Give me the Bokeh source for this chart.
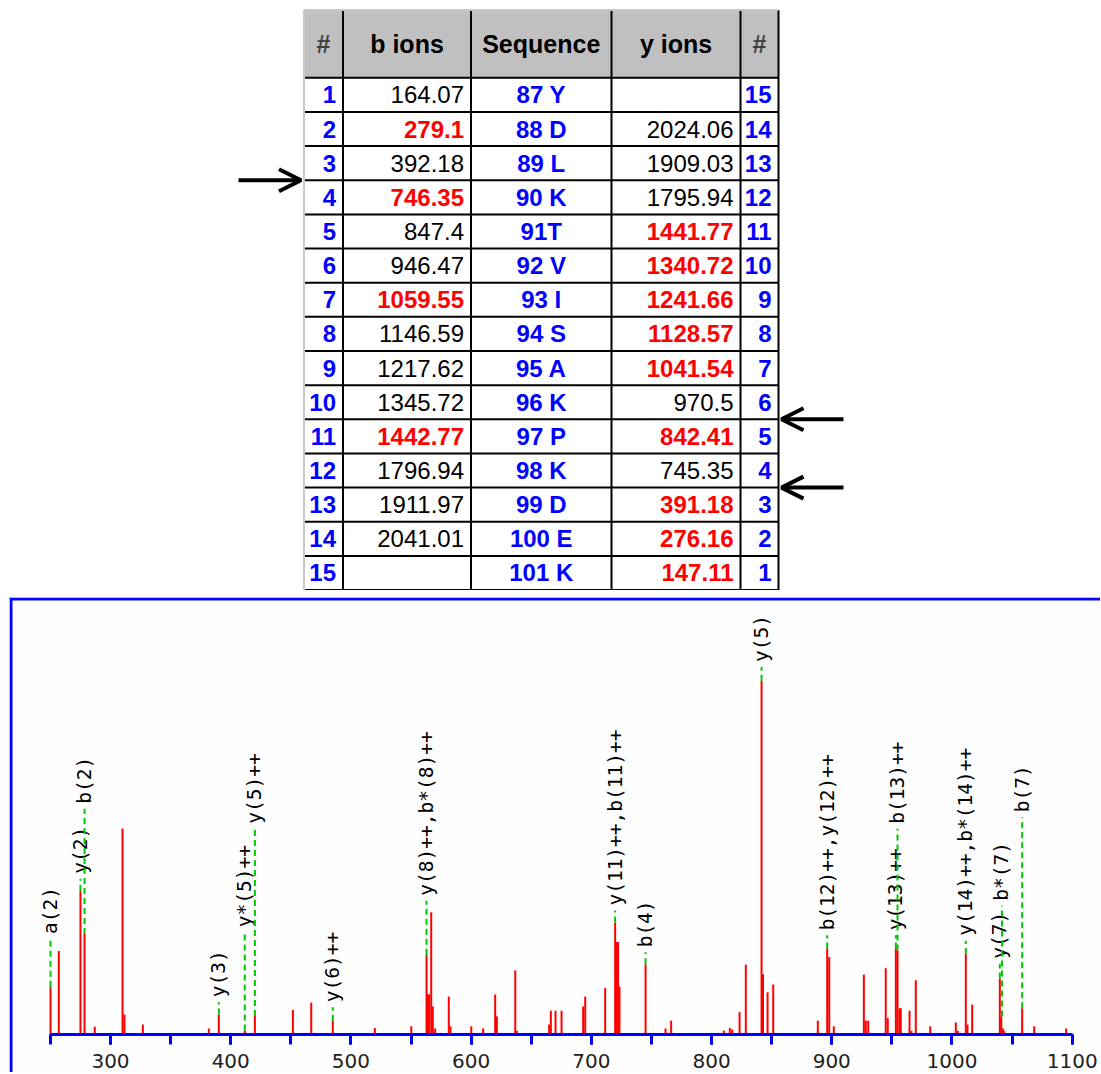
import numpy as np
from bokeh.plotting import figure
from bokeh.models import Range1d, Span, FixedTicker, Arrow, OpenHead
from bokeh.layouts import column
from bokeh.embed import file_html
from bokeh.resources import INLINE
from bokeh.core.properties import value

# ---------------- table data ----------------
headers = ["#", "b ions", "Sequence", "y ions", "#"]
b_no = list(range(1, 16))
b_ions = ["164.07", "279.1", "392.18", "746.35", "847.4", "946.47", "1059.55", "1146.59",
          "1217.62", "1345.72", "1442.77", "1796.94", "1911.97", "2041.01", ""]
b_matched = [0, 1, 0, 1, 0, 0, 1, 0, 0, 0, 1, 0, 0, 0, 0]
sequence = ["87 Y", "88 D", "89 L", "90 K", "91T", "92 V", "93 I", "94 S", "95 A",
            "96 K", "97 P", "98 K", "99 D", "100 E", "101 K"]
y_ions = ["", "2024.06", "1909.03", "1795.94", "1441.77", "1340.72", "1241.66", "1128.57",
          "1041.54", "970.5", "842.41", "745.35", "391.18", "276.16", "147.11"]
y_matched = [0, 0, 0, 0, 1, 1, 1, 1, 1, 0, 1, 0, 1, 1, 1]
y_no = list(range(15, 0, -1))
arrow_rows = [3, 10, 12]          # arrow drawn at the lower edge of these rows
arrow_sides = ["left", "right", "right"]

# ---------------- spectrum data ----------------
peak_mz = [250.1, 257.0, 275.0, 278.4, 286.9, 310.0, 311.6, 326.9, 381.8, 390.1, 411.7, 420.1,
           451.7, 467.0, 484.9, 519.9, 550.2, 562.9, 564.0, 565.0, 566.8, 568.1, 570.1, 581.4,
           582.8, 600.1, 610.0, 620.0, 621.4, 636.7, 638.0, 664.9, 666.3, 670.2, 675.2, 693.2,
           694.9, 711.5, 719.8, 721.0, 722.2, 723.4, 745.1, 761.7, 766.4, 810.2, 815.2, 817.2,
           823.3, 828.5, 841.6, 842.8, 846.6, 851.3, 888.4, 896.2, 897.9, 901.7, 926.7, 928.3,
           930.3, 944.9, 946.6, 953.3, 954.7, 956.3, 957.4, 964.7, 966.3, 969.9, 981.9, 1003.2,
           1004.9, 1011.5, 1012.9, 1016.8, 1039.8, 1041.0, 1042.3, 1043.4, 1058.4, 1068.4, 1095.0]
peak_int = [13.6, 23.7, 40.7, 28.5, 2.3, 58.3, 5.7, 2.9, 1.8, 5.7, 1.2, 5.3,
            7.0, 9.1, 4.0, 1.9, 2.4, 22.6, 11.4, 11.4, 34.6, 8.0, 1.8, 10.8,
            2.4, 2.4, 1.8, 11.4, 5.2, 18.2, 1.1, 2.9, 6.8, 6.8, 6.8, 8.0,
            10.8, 13.2, 31.7, 26.2, 26.2, 13.6, 19.9, 1.8, 4.0, 1.2, 1.9, 1.5,
            6.4, 19.8, 100.0, 17.1, 12.0, 14.2, 4.0, 24.4, 22.0, 2.4, 17.0, 4.0,
            4.0, 18.8, 4.7, 24.4, 23.8, 7.5, 7.5, 6.8, 1.1, 15.4, 2.4, 3.5,
            1.1, 22.8, 2.9, 8.5, 15.9, 5.2, 1.8, 1.1, 7.5, 2.4, 1.8]

label_text = ["a(2)", "y(2)", "b(2)", "y(3)", "y*(5)++", "y(5)++", "y(6)++",
              "y(8)++,b*(8)++", "y(11)++,b(11)++", "b(4)", "y(5)", "b(12)++,y(12)++",
              "y(13)++", "b(13)++", "y(14)++,b*(14)++", "y(7)", "b*(7)", "b(7)"]
label_mz = [250.1, 275.0, 278.4, 390.1, 411.7, 420.1, 484.9,
            562.9, 719.8, 745.1, 841.6, 896.2,
            953.3, 954.7, 1011.5, 1039.8, 1041.6, 1058.4]
label_base = [13.6, 40.7, 28.5, 5.7, 1.2, 5.3, 4.0,
              22.6, 31.7, 19.9, 100.0, 24.4,
              24.4, 23.8, 22.8, 15.9, 5.2, 7.5]
label_y = [28.5, 45.5, 65.3, 10.6, 30.4, 59.6, 9.2,
           39.3, 36.5, 24.7, 105.3, 29.5,
           29.5, 59.6, 28.0, 21.5, 37.9, 62.9]

x_ticks = list(range(300, 1101, 100))
x_minor = list(range(250, 1101, 50))

# ---------------- layout constants (page pixels) ----------------
PAGE_W = 1100
TAB_H = 590
SPEC_H = 482
FR_L = 9                     # left edge of both plot frames (page x)
RED, BLUE, GREEN = "#ff0000", "#0000ff", "#00c800"
TFONT = value("Liberation Sans")

col_edges = [303.5, 342.5, 470.5, 611.0, 740.0, 778.0]
t_top, h_bot, row_h = 9.5, 77.3, 34.15
t_bot = h_bot + 15 * row_h
pad = 7

# ---------------- table figure ----------------
t = figure(width=PAGE_W, height=TAB_H, x_range=Range1d(FR_L, PAGE_W),
           y_range=Range1d(TAB_H, 0), x_axis_type=None, y_axis_type=None,
           toolbar_location=None, output_backend="svg",
           min_border_left=FR_L, min_border_right=0, min_border_top=0,
           min_border_bottom=0,
           outline_line_color=None, background_fill_color="white",
           border_fill_color="white")

t.quad(left=[col_edges[0]], right=[col_edges[-1]], top=[t_top], bottom=[h_bot],
       fill_color="#c0c0c0", line_color=None)

hy = [h_bot + k * row_h for k in range(16)]
t.segment(x0=[col_edges[0]] * 16, x1=[col_edges[-1]] * 16, y0=hy, y1=hy,
          line_color="black", line_width=2)
t.segment(x0=col_edges[1:], x1=col_edges[1:], y0=[t_top] * 5, y1=[t_bot] * 5,
          line_color="black", line_width=2)
t.segment(x0=[col_edges[0], col_edges[0]], x1=[col_edges[0], col_edges[-1]],
          y0=[t_top, t_top], y1=[t_bot, t_top], line_color="#c8c8c8", line_width=2)

centers = [(col_edges[i] + col_edges[i + 1]) / 2 for i in range(5)]
t.text(x=centers, y=[(t_top + h_bot) / 2] * 5, text=headers,
       text_color=["#404040", "black", "black", "black", "#404040"],
       text_font=TFONT, text_font_style="bold", text_font_size="25px",
       text_align="center", text_baseline="middle")

ry = [h_bot + (i + 0.5) * row_h for i in range(15)]


def put(x, texts, idx, color, style, align):
    if not idx:
        return
    t.text(x=[x] * len(idx), y=[ry[i] for i in idx], text=[texts[i] for i in idx],
           text_color=color, text_font=TFONT, text_font_style=style,
           text_font_size="24px", text_align=align, text_baseline="middle")


all_idx = list(range(15))
put(col_edges[1] - pad, [str(v) for v in b_no], all_idx, BLUE, "bold", "right")
put(col_edges[2] - pad, b_ions, [i for i in all_idx if b_matched[i]], RED, "bold", "right")
put(col_edges[2] - pad, b_ions, [i for i in all_idx if not b_matched[i]], "black", "normal", "right")
put(centers[2], sequence, all_idx, BLUE, "bold", "center")
put(col_edges[4] - pad, y_ions, [i for i in all_idx if y_matched[i]], RED, "bold", "right")
put(col_edges[4] - pad, y_ions, [i for i in all_idx if not y_matched[i]], "black", "normal", "right")
put(col_edges[5] - pad, [str(v) for v in y_no], all_idx, BLUE, "bold", "right")

for r, side in zip(arrow_rows, arrow_sides):
    yy = h_bot + r * row_h
    if side == "left":
        xs, xe = 238, col_edges[0] - 3
    else:
        xs, xe = 843, col_edges[-1] + 3
    t.add_layout(Arrow(end=OpenHead(size=22, line_width=4, line_color="black"),
                       x_start=xs, y_start=yy, x_end=xe, y_end=yy,
                       line_width=4, line_color="black"))

# ---------------- spectrum figure ----------------
PX_MZ = 1.2021          # pixels per m/z unit
MZ250_X = 49.9          # page x of m/z 250
BASE_Y = 1034.3         # page y of zero intensity
PX_INT = 3.54           # pixels per intensity unit
FR_R, FR_T, FR_B = PAGE_W, 597, TAB_H + SPEC_H


def mz_at(px):
    return 250 + (px - MZ250_X) / PX_MZ


def int_at(py):
    return (BASE_Y - py) / PX_INT


s = figure(width=PAGE_W, height=SPEC_H,
           x_range=Range1d(mz_at(FR_L), mz_at(FR_R)),
           y_range=Range1d(int_at(FR_B), int_at(FR_T)),
           y_axis_location=None, toolbar_location=None, output_backend="svg",
           min_border_left=FR_L, min_border_top=FR_T - TAB_H,
           min_border_right=0, min_border_bottom=0,
           outline_line_color=None, background_fill_color="#fefefe",
           border_fill_color="white")
s.grid.visible = False

ax = s.xaxis[0]
ax.fixed_location = 0
ax.bounds = (250, 1100)
ax.ticker = FixedTicker(ticks=x_ticks, minor_ticks=x_minor)
ax.axis_line_color = BLUE
ax.axis_line_width = 3
ax.major_tick_line_color = BLUE
ax.major_tick_line_width = 3
ax.minor_tick_line_color = BLUE
ax.minor_tick_line_width = 3
ax.major_tick_in = 0
ax.major_tick_out = 10
ax.minor_tick_in = 0
ax.minor_tick_out = 10
ax.major_label_standoff = 9
ax.major_label_text_font = "DejaVu Sans"
ax.major_label_text_font_size = "20px"
ax.major_label_text_color = "#222222"

s.segment(x0=peak_mz, y0=[0] * len(peak_mz), x1=peak_mz, y1=peak_int,
          line_color=RED, line_width=2)

gap = 5 / PX_INT
s.text(x=label_mz, y=label_y, text=label_text, angle=np.pi / 2,
       text_align="left", text_baseline="middle",
       text_font=value("DejaVu Sans Mono"), text_font_size="19.5px",
       text_color="black")
s.segment(x0=label_mz, x1=label_mz, y0=label_base,
          y1=[v - gap for v in label_y], line_color=GREEN, line_width=2,
          line_dash="6 4")

s.add_layout(Span(location=mz_at(FR_L + 1.5), dimension="height",
                  line_color=BLUE, line_width=3))
s.add_layout(Span(location=int_at(FR_T + 1.5), dimension="width",
                  line_color=BLUE, line_width=3))

layout = column(t, s, spacing=0)
open("out.html", "w").write(file_html(layout, INLINE))
